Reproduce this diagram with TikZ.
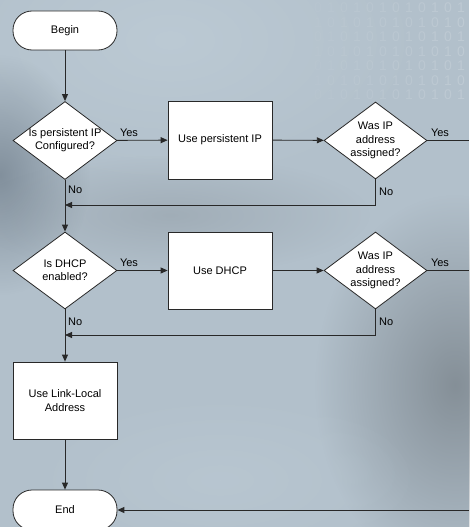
\documentclass[tikz,border=0pt]{standalone}
\usepackage{fontspec}
\setmainfont{Liberation Sans}
\usetikzlibrary{shapes.geometric,arrows.meta,fadings}

\newcommand\flowfont{\fontsize{11}{13.3}\selectfont}
\definecolor{bgbase}{RGB}{178,192,203}
\definecolor{bglight}{RGB}{190,204,214}
\definecolor{bgdark}{RGB}{128,138,146}
\definecolor{bgdeep}{RGB}{118,132,145}
\definecolor{inkline}{RGB}{40,40,40}

\tikzfading[name=softblob, inner color=transparent!0, outer color=transparent!100]

\begin{document}
\begin{tikzpicture}[x=1pt,y=-1pt,
  line/.style={draw=inkline, line width=0.9pt},
  arr/.style={line, -{Triangle[length=7pt,width=6pt]}},
  box/.style={draw=inkline, line width=0.8pt, fill=white, minimum width=104pt,
              minimum height=78pt, inner sep=0pt, font=\flowfont, align=center},
  term/.style={box, minimum height=39pt, rounded corners=19pt},
  decision/.style={diamond, draw=inkline, line width=0.8pt, fill=white,
                   minimum width=104pt, minimum height=78pt, inner sep=0pt},
  dtext/.style={font=\flowfont, align=center, inner sep=0pt},
  lbl/.style={font=\flowfont, inner sep=0pt}
]
% backdrop
\fill[bgbase] (0,0) rectangle (469,527);
\useasboundingbox (0,0) rectangle (469,527);
\fill[bglight, opacity=0.8, path fading=softblob] (170,40) ellipse (260 and 150);
\fill[bgdark, opacity=0.9, path fading=softblob] (455,385) ellipse (140 and 190);
\fill[bgdeep, opacity=0.8, path fading=softblob] (0,175) ellipse (90 and 120);
\fill[bgdark, opacity=0.35, path fading=softblob] (170,215) ellipse (200 and 60);
\fill[bglight, opacity=0.5, path fading=softblob] (220,480) ellipse (200 and 90);

% faint binary pattern
\foreach \r in {0,...,6}
  \foreach \c in {0,...,11} {
    \pgfmathtruncatemacro\dig{mod(\r+\c,2)}
    \pgfmathsetmacro\op{0.03+0.012*\c}
    \node[font=\fontsize{14}{14}\selectfont, text=white, opacity=\op, inner sep=0pt]
      (dig-\r-\c) at ({318+13*\c},{8+14.5*\r}) {\dig};
  }

% flow nodes
\node[term] (begin) at (65,30.5) {Begin};
\node[decision] (d1) at (65,140.5) {};
\node[dtext] (t1) at (d1.center) {Is persistent IP\\Configured?};
\node[box] (p1) at (220,140) {Use persistent IP};
\node[decision, minimum width=103pt, minimum height=77pt] (d2) at (375.5,140.5) {};
\node[dtext] (t2) at (d2.center) {Was IP\\address\\assigned?};
\coordinate (m1) at (65,205);

\node[decision, minimum height=77pt] (d3) at (65,270.5) {};
\node[dtext] (t3) at (d3.center) {Is DHCP\\enabled?};
\node[box, minimum height=77pt] (p2) at (220,270.5) {Use DHCP};
\node[decision, minimum width=103pt, minimum height=77pt] (d4) at (375.5,270.5) {};
\node[dtext] (t4) at (d4.center) {Was IP\\address\\assigned?};
\coordinate (m2) at (65,335);

\node[box, minimum height=77pt] (ll) at (65,400.5) {Use Link-Local\\Address};
\node[term, minimum height=40pt] (end) at (65,510) {End};

\coordinate (y1) at (469,140.5);
\coordinate (y2) at (469,270.5);
\coordinate (y3) at (469,510);

% connectors
\draw[arr] (begin) -- (d1);
\draw[arr] (d1) -- (p1);
\draw[arr] (p1) -- (d2);
\draw[line] (d2.east) -- (y1);
\draw[arr] (d2.south) |- (m1);
\draw[arr] (d1.south) -- (d3.north);
\draw[arr] (d3) -- (p2);
\draw[arr] (p2) -- (d4);
\draw[line] (d4.east) -- (y2);
\draw[arr] (d4.south) |- (m2);
\draw[arr] (d3.south) -- (ll.north);
\draw[arr] (ll) -- (end);
\draw[arr] (y3) -- (end.east);

% branch labels
\node[lbl] (yes1) at (129,133) {Yes};
\node[lbl, anchor=west] (no1) at (68,190) {No};
\node[lbl] (yes2) at (440,133) {Yes};
\node[lbl, anchor=west] (no2) at (379,192) {No};
\node[lbl] (yes3) at (129,263) {Yes};
\node[lbl, anchor=west] (no3) at (68,322) {No};
\node[lbl] (yes4) at (440,263) {Yes};
\node[lbl, anchor=west] (no4) at (379,322) {No};
\end{tikzpicture}
\end{document}
